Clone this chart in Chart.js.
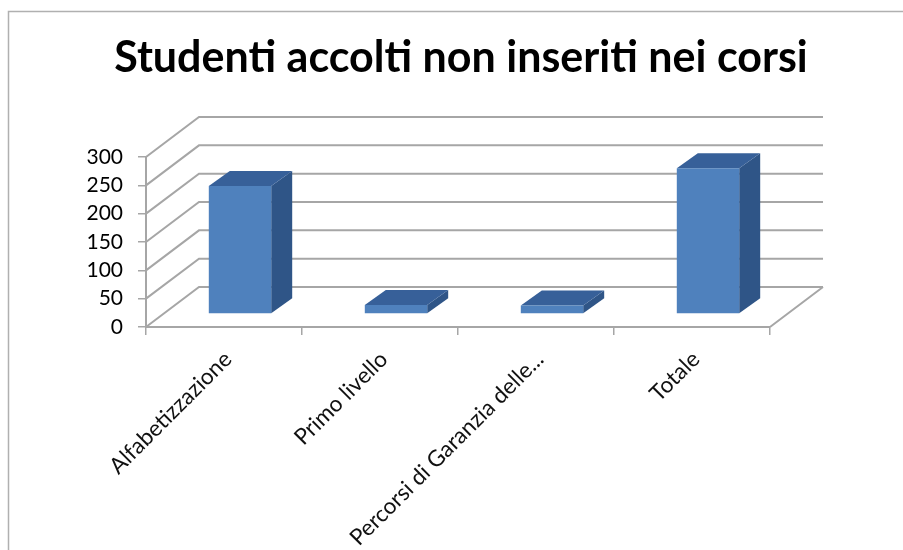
<!DOCTYPE html>
<html><head><meta charset="utf-8">
<style>html,body{margin:0;padding:0;background:#fff}#w{width:903px;height:550px;position:relative}</style>
<script src="https://cdn.jsdelivr.net/npm/chart.js@4"></script>
</head><body><div id="w"><canvas id="c" width="903" height="550"></canvas></div>
<script>
const categories = ["Alfabetizzazione", "Primo livello", "Percorsi di Garanzia delle...", "Totale"];
const values = [226, 16, 15, 257];
const yTicks = [0, 50, 100, 150, 200, 250, 300];
const chartTitle = "Studenti accolti non inseriti nei corsi";

const GRID = "#a6a6a6", FACE = "#4f81bd", TOP = "#376099", SIDE = "#2f5587";
const WALL = {dx: 53, dy: -40};
const BAR_FRONT = {dx: 16, dy: -13};
const BAR_DEPTH = {dx: 21, dy: -15};

function poly(ctx, pts, fill) {
  ctx.beginPath();
  pts.forEach((p, i) => i ? ctx.lineTo(p[0], p[1]) : ctx.moveTo(p[0], p[1]));
  ctx.closePath();
  ctx.fillStyle = fill;
  ctx.fill();
}

const threeD = {
  id: "threeD",
  beforeDraw(chart) {
    const c = chart.ctx;
    c.save();
    c.strokeStyle = "#b0b0b0";
    c.lineWidth = 1.5;
    c.beginPath();
    c.moveTo(8.5, 560); c.lineTo(8.5, 11.5); c.lineTo(903, 11.5);
    c.stroke();
    c.restore();
  },
  afterLayout(chart) {
    chart.titleBlock.left = 19;
    chart.titleBlock.right = 903;
  },
  beforeDatasetsDraw(chart) {
    const c = chart.ctx, xs = chart.scales.x, ys = chart.scales.y;
    const l = xs.left, r = xs.right;
    c.save();
    c.strokeStyle = GRID;
    c.lineWidth = 2;
    c.beginPath();
    yTicks.forEach(v => {
      const y = ys.getPixelForValue(v);
      c.moveTo(l, y);
      c.lineTo(l + WALL.dx, y + WALL.dy);
      c.lineTo(r + WALL.dx, y + WALL.dy);
    });
    const y0 = ys.getPixelForValue(0);
    c.moveTo(r, y0);
    c.lineTo(r + WALL.dx, y0 + WALL.dy);
    c.stroke();
    chart.getDatasetMeta(0).data.forEach(b => {
      const x1 = b.x - b.width / 2 + BAR_FRONT.dx, x2 = b.x + b.width / 2 + BAR_FRONT.dx;
      const yt = b.y + BAR_FRONT.dy, yb = b.base + BAR_FRONT.dy;
      const d = BAR_DEPTH;
      poly(c, [[x2, yt], [x2 + d.dx, yt + d.dy], [x2 + d.dx, yb + d.dy], [x2, yb]], SIDE);
      poly(c, [[x1, yt], [x1 + d.dx, yt + d.dy], [x2 + d.dx, yt + d.dy], [x2, yt]], TOP);
    });
    c.restore();
    c.save();
    c.translate(BAR_FRONT.dx, BAR_FRONT.dy);
  },
  afterDatasetsDraw(chart) {
    chart.ctx.restore();
  }
};

new Chart(document.getElementById("c"), {
  type: "bar",
  data: {
    labels: categories,
    datasets: [{data: values, backgroundColor: FACE, borderWidth: 0, barPercentage: 1, categoryPercentage: 0.4}]
  },
  plugins: [threeD],
  options: {
    responsive: false,
    animation: false,
    layout: {padding: {left: 0, right: 133, top: 0, bottom: 0}},
    plugins: {
      legend: {display: false},
      tooltip: {enabled: false},
      title: {
        display: true,
        text: chartTitle,
        color: "#000",
        font: {family: "Lato", size: 43, weight: "bold", lineHeight: 1.2},
        padding: {top: 32, bottom: 73.4}
      }
    },
    scales: {
      x: {
        offset: true,
        afterFit(s) { s.height = 223; },
        grid: {drawOnChartArea: false, offset: true, color: GRID, lineWidth: 1.5, tickLength: 8, tickColor: GRID},
        border: {color: GRID, width: 2},
        ticks: {
          autoSkip: false, minRotation: 45, maxRotation: 45, padding: 11, labelOffset: 4,
          color: "#111", font: {family: "Lato", size: 22.5}
        }
      },
      y: {
        min: 0, max: 300,
        afterFit(s) { s.width = 146; },
        afterBuildTicks(s) { s.ticks = yTicks.map(v => ({value: v})); },
        grid: {drawOnChartArea: false, color: GRID, lineWidth: 1.5, tickLength: 8, tickColor: GRID},
        border: {color: GRID, width: 2},
        ticks: {padding: 15, color: "#000", font: {family: "Lato", size: 21}}
      }
    }
  }
});
</script></body></html>
